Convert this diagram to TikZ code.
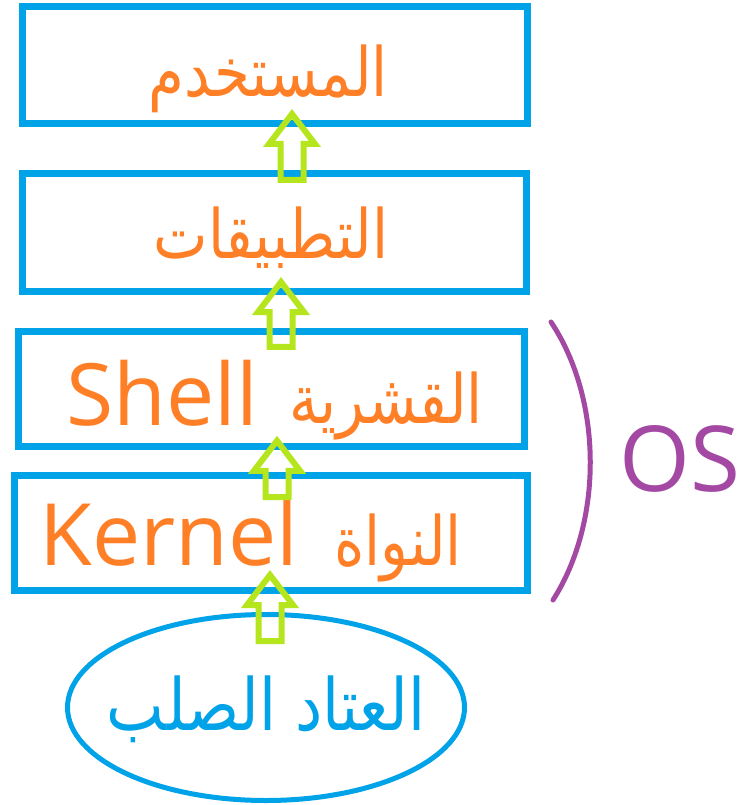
\documentclass[tikz,border=0pt]{standalone}
\usepackage{fontspec}
\usetikzlibrary{calc,shapes.geometric}
\TeXXeTstate=1
\newfontfamily\latinfont{Open Sans}
\newfontfamily\arabicfont[Script=Arabic, FakeStretch=0.85]{DejaVu Sans}
\definecolor{pblue}{HTML}{00A2E8}
\definecolor{porange}{HTML}{FF7F27}
\definecolor{plime}{HTML}{B5E61D}
\definecolor{ppurple}{HTML}{A349A4}
\tikzset{
  layer/.style={draw=pblue, line width=7pt, rectangle, inner sep=0pt, outer sep=0pt},
  artext/.style={text=porange, inner sep=0pt, anchor=base, font=\arabicfont\fontsize{68}{70}\selectfont},
  entext/.style={text=porange, inner sep=0pt, anchor=base west, font=\latinfont\fontsize{86}{90}\selectfont},
  liftline/.style={draw=plime, line width=6pt},
  osline/.style={draw=ppurple, line width=5pt, line cap=round},
}
% block arrow: #1 foot of the shaft, #2 tip
\newcommand{\liftarrow}[2]{%
  \draw[liftline] let \p1=#1, \p2=#2 in
    (\x2-11.5pt,\y1) -- (\x2-11.5pt,\y2-30pt) -- (\x2-23pt,\y2-30pt) -- (\x2,\y2)
    -- (\x2+23pt,\y2-30pt) -- (\x2+11.5pt,\y2-30pt) -- (\x2+11.5pt,\y1) -- cycle;}
\begin{document}
\begin{tikzpicture}[x=1pt, y=-1pt]
  \useasboundingbox (0,0) rectangle (742,805);
  % layers
  \node[layer, minimum width=505pt, minimum height=117pt] (user) at (275,65) {};
  \node[layer, minimum width=504pt, minimum height=118pt] (apps) at (274.5,232.5) {};
  \node[layer, minimum width=506pt, minimum height=115.5pt] (shell) at (271.5,389) {};
  \node[layer, minimum width=513pt, minimum height=115pt] (kernel) at (271,532.5) {};
  \node[ellipse, draw=pblue, line width=5pt, inner sep=0pt, outer sep=0pt,
        minimum width=397pt, minimum height=186pt] (hw) at (266,707.5) {};
  % labels
  \node[artext] (usertxt) at (268,97) {\beginR المستخدم\endR};
  \node[artext] (appstxt) at (271,258) {\beginR التطبيقات\endR};
  \node[entext] (shelltxt) at (66,425) {Shell};
  \node[artext] (shellar) at (386,423) {\beginR القشرية\endR};
  \node[entext] (kerneltxt) at (39,565) {Kernel};
  \node[artext] (kernelar) at (398,565) {\beginR النواة\endR};
  \node[artext, text=pblue, font=\arabicfont\fontsize{72}{74}\selectfont] (hwtxt) at (266,730) {\beginR العتاد الصلب\endR};
  % arrows
  \liftarrow{($(apps.north)+(17.5,6.5)$)}{($(user.south)+(17,-9.5)$)}
  \liftarrow{($(shell.north)+(9.5,15.5)$)}{($(apps.south)+(6.5,-9.5)$)}
  \liftarrow{($(kernel.north)+(6,22)$)}{($(shell.south)+(5.5,-6)$)}
  \liftarrow{($(hw.north)+(4,26.5)$)}{($(kernel.south)+(-1,-15)$)}
  % operating system
  \coordinate (ostop) at (551,322);
  \coordinate (osbot) at (553,600);
  \draw[osline] (ostop) .. controls (603,400) and (603,522) .. (osbot);
  \node[text=ppurple, inner sep=0pt, anchor=base west,
        font=\latinfont\fontsize{91}{95}\selectfont] (os) at (619,491) {OS};
\end{tikzpicture}
\end{document}
